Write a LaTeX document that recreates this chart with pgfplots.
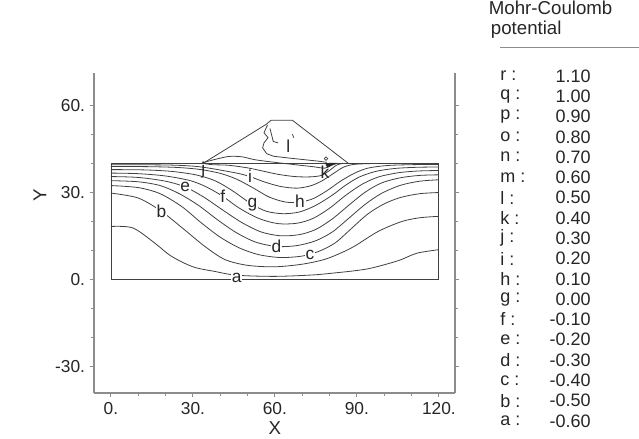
\documentclass[border=0pt]{standalone}
\usepackage{fontspec}
\setmainfont{Liberation Sans}
\usepackage{pgfplots}
\pgfplotsset{compat=1.18}

\begin{document}
\begin{tikzpicture}
\useasboundingbox (-70.5pt,-34.5pt) rectangle (408.75pt,294.75pt);
\begin{axis}[
  at={(0pt,0pt)}, anchor=south west,
  scale only axis, width=270.75pt, height=240pt,
  xmin=-6.2, xmax=125.9, ymin=-39.2, ymax=71.1,
  axis x line=bottom, axis y line=box,
  axis line style={-, draw=black!45, line width=0.8pt},
  every tick/.style={draw=black!45, line width=0.7pt},
  tick align=outside,
  major tick length=3.2pt, minor tick length=2.4pt,
  xtick={0,30,60,90,120}, xticklabels={0.,30.,60.,90.,120.},
  ytick={-30,0,30,60}, yticklabels={-30.,0.,30.,60.},
  minor x tick num=2, minor y tick num=2,
  ytick pos=both, yticklabel pos=left,
  tick label style={font=\fontsize{13}{15}\selectfont, text=black!85},
  xlabel={X}, ylabel={Y},
  label style={font=\fontsize{14}{16}\selectfont, text=black!85},
  xlabel style={at={(axis description cs:0.501,-0.109)}, anchor=center},
  ylabel style={at={(axis description cs:-0.150,0.619)}, anchor=center},
  clip=false,
  every axis plot/.append style={draw=black!75, line width=0.6pt},
]
% model boundary
\addplot[sharp plot] coordinates {(0,0)(120,0)(120,40)(0,40)(0,0)};
% embankment
\addplot[sharp plot] coordinates {(33.8,40)(56.8,53.4)(58.6,54.8)(66.4,54.8)(86.8,40)};
% contours
\addplot[smooth] coordinates {(0,18.2)(8,17.7)(16,12.5)(22,8)(30,4.3)(38,2.7)(46,1.4)(60,1)(74,1.5)(82,2.2)(88,2.8)(94,3.6)(100,5)(106,6.7)(112,9)(120,10.2)};
\addplot[smooth] coordinates {(0,29.7)(10,28)(18.5,23.4)(27,17)(34.4,11.3)(41.7,6.8)(50,4.8)(60,4.3)(70,5.2)(78,6.8)(84,9)(89.3,11.5)(97.8,16.5)(106.4,19.9)(113,21.2)(120,21.7)};
\addplot[smooth] coordinates {(0,32.3)(10,31.6)(18,29.5)(26,25)(33,19.5)(40,14.5)(47,10.8)(54,8.5)(62,7.5)(70,8)(76,9.6)(82,12.5)(88,17.5)(94,22.5)(100,26)(106,28.2)(113,29.5)(120,29.9)};
\addplot[smooth] coordinates {(0,34)(10,33.6)(18,32.3)(25,29.5)(32,25.5)(39,20.5)(46,16)(53,12.8)(60.6,11.3)(68,11.6)(75,13.3)(81,16.3)(87,21)(93,25.8)(99,29.6)(106,32.4)(113,33.8)(120,34.3)};
\addplot[smooth] coordinates {(0,35.4)(10,35.1)(20,33.8)(27.2,31.8)(34,28.3)(41,23.8)(48,19.5)(55,16.3)(62,15)(69,15.4)(75,17.2)(81,20.8)(87,25.5)(93,30)(99,33.2)(106,35)(113,35.8)(120,36)};
\addplot[smooth] coordinates {(0,36.6)(10,36.4)(20,35.6)(29,34)(35,31.8)(40.9,28.6)(47,24.5)(54,21)(61,19.2)(68,19.3)(74,21)(80,24.5)(86,29)(92,32.8)(98,35.3)(105,36.7)(112,37.3)(120,37.5)};
\addplot[smooth] coordinates {(0,37.8)(12,37.7)(22,37.2)(31,36)(38,34)(44,30.8)(49,27.5)(51.8,25.7)(57,23.4)(63,22.6)(69,23.2)(75,25.5)(81,29)(86,32.5)(91,35.3)(97,37.2)(104,38.2)(112,38.6)(120,38.7)};
\addplot[smooth] coordinates {(0,38.9)(15,38.8)(25,38.5)(33,37.8)(40,36.5)(46,34.5)(52,31.5)(58,28.3)(64,26.6)(69.2,26.6)(74,27.8)(79,30.5)(84,33.8)(89,36.5)(94,38.3)(101,39.2)(110,39.5)(120,39.6)};
\addplot[smooth] coordinates {(0,39.5)(20,39.4)(30,39)(36,38.3)(42,37.3)(47,36.4)(50.9,35.4)(56,33.6)(62,32)(68,31.4)(73,32.2)(77,33.8)(81,36.2)(85,38.6)(89,39.6)(96,39.9)};
\addplot[smooth] coordinates {(33.5,40)(37,39.5)(43,39.3)(50,38.4)(55.1,37.4)(61,36.2)(67.3,35.4)(73,35.3)(77,35.8)(80,37.5)(82.5,39.3)(85,40)};
\addplot[smooth] coordinates {(33.2,40)(36,40.8)(42.9,42.3)(48,42.2)(52.7,41.2)(60,40.3)(67.3,39.5)(74,38.8)(78.3,38.3)(80.5,39.2)(83,40)};
\addplot[sharp plot] coordinates {(57.3,53.2)(56,50.5)(57.5,48.8)(56,47)(55.5,45.3)(57,43.3)(59.5,42.4)(65,41.8)(71,41.2)(76,40.7)(79,40.3)};
\addplot[sharp plot] coordinates {(58.2,52)(59.4,47.5)(61.2,47)};
\addplot[sharp plot] coordinates {(66.4,50)(66.9,48.8)};
\addplot[only marks, mark=o, mark size=1.3pt, mark options={draw=black!75, line width=0.5pt}] coordinates {(78.7,41.6)};
\addplot[fill=black!85, draw=black!85] coordinates {(78.6,39.9)(82,40)(79.2,38.7)(78.6,39.9)};
% labels
\begin{scope}[every node/.style={fill=white, inner sep=0.6pt, font=\fontsize{13}{15}\selectfont, text=black!85}]
\node at (axis cs:46,0.6) {a};
\node at (axis cs:18.5,23.4) {b};
\node at (axis cs:72.8,8.4) {c};
\node at (axis cs:60.6,11.3) {d};
\node at (axis cs:27.2,31.8) {e};
\node at (axis cs:40.9,28.6) {f};
\node at (axis cs:51.8,25.7) {g};
\node at (axis cs:69.2,26.8) {h};
\node at (axis cs:50.9,35.4) {i};
\node[fill=none] at (axis cs:33.8,37.6) {j};
\node[fill=none] at (axis cs:78.3,36.8) {k};
\node[fill=none] at (axis cs:64.9,45.8) {l};
\end{scope}
\end{axis}
% legend
\node[anchor=north west, font=\fontsize{14}{16}\selectfont, text=black!85, inner sep=0pt] at (296pt,294pt) {Mohr-Coulomb};
\node[anchor=north west, font=\fontsize{14}{16}\selectfont, text=black!85, inner sep=0pt] at (297.5pt,279.5pt) {potential};
\draw[black!45, line width=0.8pt] (304.5pt,259pt) -- (408.75pt,259pt);
\foreach \l/\v [count=\i from 0] in {r/1.10,q/1.00,p/0.90,o/0.80,n/0.70,m/0.60,l/0.50,k/0.40,j/0.30,i/0.20,h/0.10,g/0.00,f/-0.10,e/-0.20,d/-0.30,c/-0.40,b/-0.50,a/-0.60}{
  \node[anchor=west, font=\fontsize{13.5}{16}\selectfont, text=black!85, inner sep=0pt] at (304.5pt,{(317-\i*20.29)*0.75pt}) {\l\ :};
  \node[anchor=east, font=\fontsize{13.5}{16}\selectfont, text=black!85, inner sep=0pt] at (372.75pt,{(317-\i*20.29)*0.75pt}) {\v};
}
\end{tikzpicture}
\end{document}
